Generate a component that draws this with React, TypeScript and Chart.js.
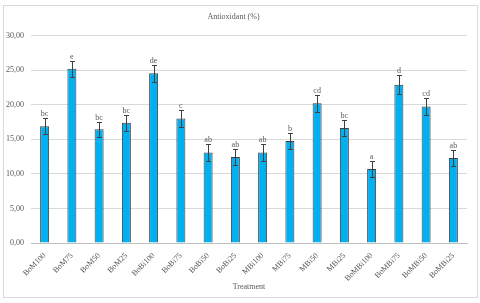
import React, { useEffect, useRef } from "react";
import { Chart, registerables } from "chart.js";

Chart.register(...registerables);

const categories = [
  "BoM100", "BoM75", "BoM50", "BoM25",
  "BoBi100", "BoBi75", "BoBi50", "BoBi25",
  "MBi100", "MBi75", "MBi50", "MBi25",
  "BoMBi100", "BoMBi75", "BoMBi50", "BoMBi25",
];
const values = [16.9, 25.2, 16.45, 17.4, 24.55, 18.0, 13.1, 12.45, 13.1, 14.75, 20.2, 16.65, 10.7, 22.9, 19.75, 12.3];
const errors = [1.15, 1.15, 1.1, 1.15, 1.2, 1.2, 1.2, 1.15, 1.2, 1.15, 1.25, 1.2, 1.15, 1.35, 1.2, 1.1];
const letters = ["bc", "e", "bc", "bc", "de", "c", "ab", "ab", "ab", "b", "cd", "bc", "a", "d", "cd", "ab"];
const yMin = 0;
const yMax = 30;
const yStep = 5;

const FONT = "'Liberation Serif', 'DejaVu Serif', serif";
const TEXT = "#595959";

const errorPlugin = {
  id: "errorBarsLetters",
  afterDatasetsDraw(chart: any) {
    const ctx = chart.ctx;
    const meta = chart.getDatasetMeta(0);
    const y = chart.scales.y;
    ctx.save();
    meta.data.forEach((bar: any, i: number) => {
      const x = Math.round(bar.x) + 0.5;
      const top = Math.round(y.getPixelForValue(values[i] + errors[i])) + 0.5;
      const bot = Math.round(y.getPixelForValue(values[i] - errors[i])) + 0.5;
      ctx.strokeStyle = "#404040";
      ctx.lineWidth = 1;
      ctx.beginPath();
      ctx.moveTo(x, top);
      ctx.lineTo(x, bot);
      ctx.moveTo(x - 2.5, top);
      ctx.lineTo(x + 2.5, top);
      ctx.moveTo(x - 2.5, bot);
      ctx.lineTo(x + 2.5, bot);
      ctx.stroke();
      ctx.fillStyle = TEXT;
      ctx.font = `8px ${FONT}`;
      ctx.textAlign = "center";
      ctx.textBaseline = "bottom";
      ctx.fillText(letters[i], bar.x, top - 1);
    });
    ctx.restore();
  },
};

export default function App() {
  const ref = useRef<HTMLCanvasElement | null>(null);
  useEffect(() => {
    if (!ref.current) return;
    const chart = new Chart(ref.current, {
      type: "bar",
      data: {
        labels: categories,
        datasets: [
          {
            data: values,
            backgroundColor: "#00B0F0",
            borderColor: "#3F3F3F",
            borderWidth: 1,
            barPercentage: 0.33,
            categoryPercentage: 1,
          },
        ],
      },
      plugins: [errorPlugin],
      options: {
        responsive: false,
        animation: false,
        devicePixelRatio: 1,
        layout: { padding: { left: 0, right: 13, top: 0, bottom: 0 } },
        plugins: {
          legend: { display: false },
          tooltip: { enabled: false },
          title: {
            display: true,
            text: "Antioxidant (%)",
            color: TEXT,
            font: { family: FONT, size: 8, weight: "normal" },
            padding: { top: 12, bottom: 14 },
          },
        },
        scales: {
          x: {
            grid: { display: false, drawTicks: false },
            border: { display: true, color: "#BFBFBF" },
            ticks: {
              color: TEXT,
              font: { family: FONT, size: 8 },
              minRotation: 45,
              maxRotation: 45,
              padding: 8,
              autoSkip: false,
            },
            title: {
              display: true,
              text: "Treatment",
              color: TEXT,
              font: { family: FONT, size: 8 },
              padding: { top: 4, bottom: 11 },
            },
            afterFit: (s: any) => {
              s.height = 60;
            },
          },
          y: {
            min: yMin,
            max: yMax,
            grid: { color: "#D9D9D9", drawTicks: false },
            border: { display: false },
            ticks: {
              stepSize: yStep,
              color: TEXT,
              font: { family: FONT, size: 8 },
              padding: 7,
              callback: (v: any) => Number(v).toFixed(2).replace(".", ","),
            },
            afterFit: (s: any) => {
              s.width = 31;
            },
          },
        },
      },
    });
    return () => chart.destroy();
  }, []);
  return (
    <div style={{ position: "absolute", left: 0, top: 0, width: 480, height: 303, background: "#fff" }}>
      <div
        style={{
          position: "absolute",
          left: 3,
          top: 5,
          width: 473,
          height: 291,
          border: "1px solid #D9D9D9",
        }}
      />
      <canvas ref={ref} width={480} height={303} style={{ position: "absolute", left: 0, top: 0 }} />
    </div>
  );
}
